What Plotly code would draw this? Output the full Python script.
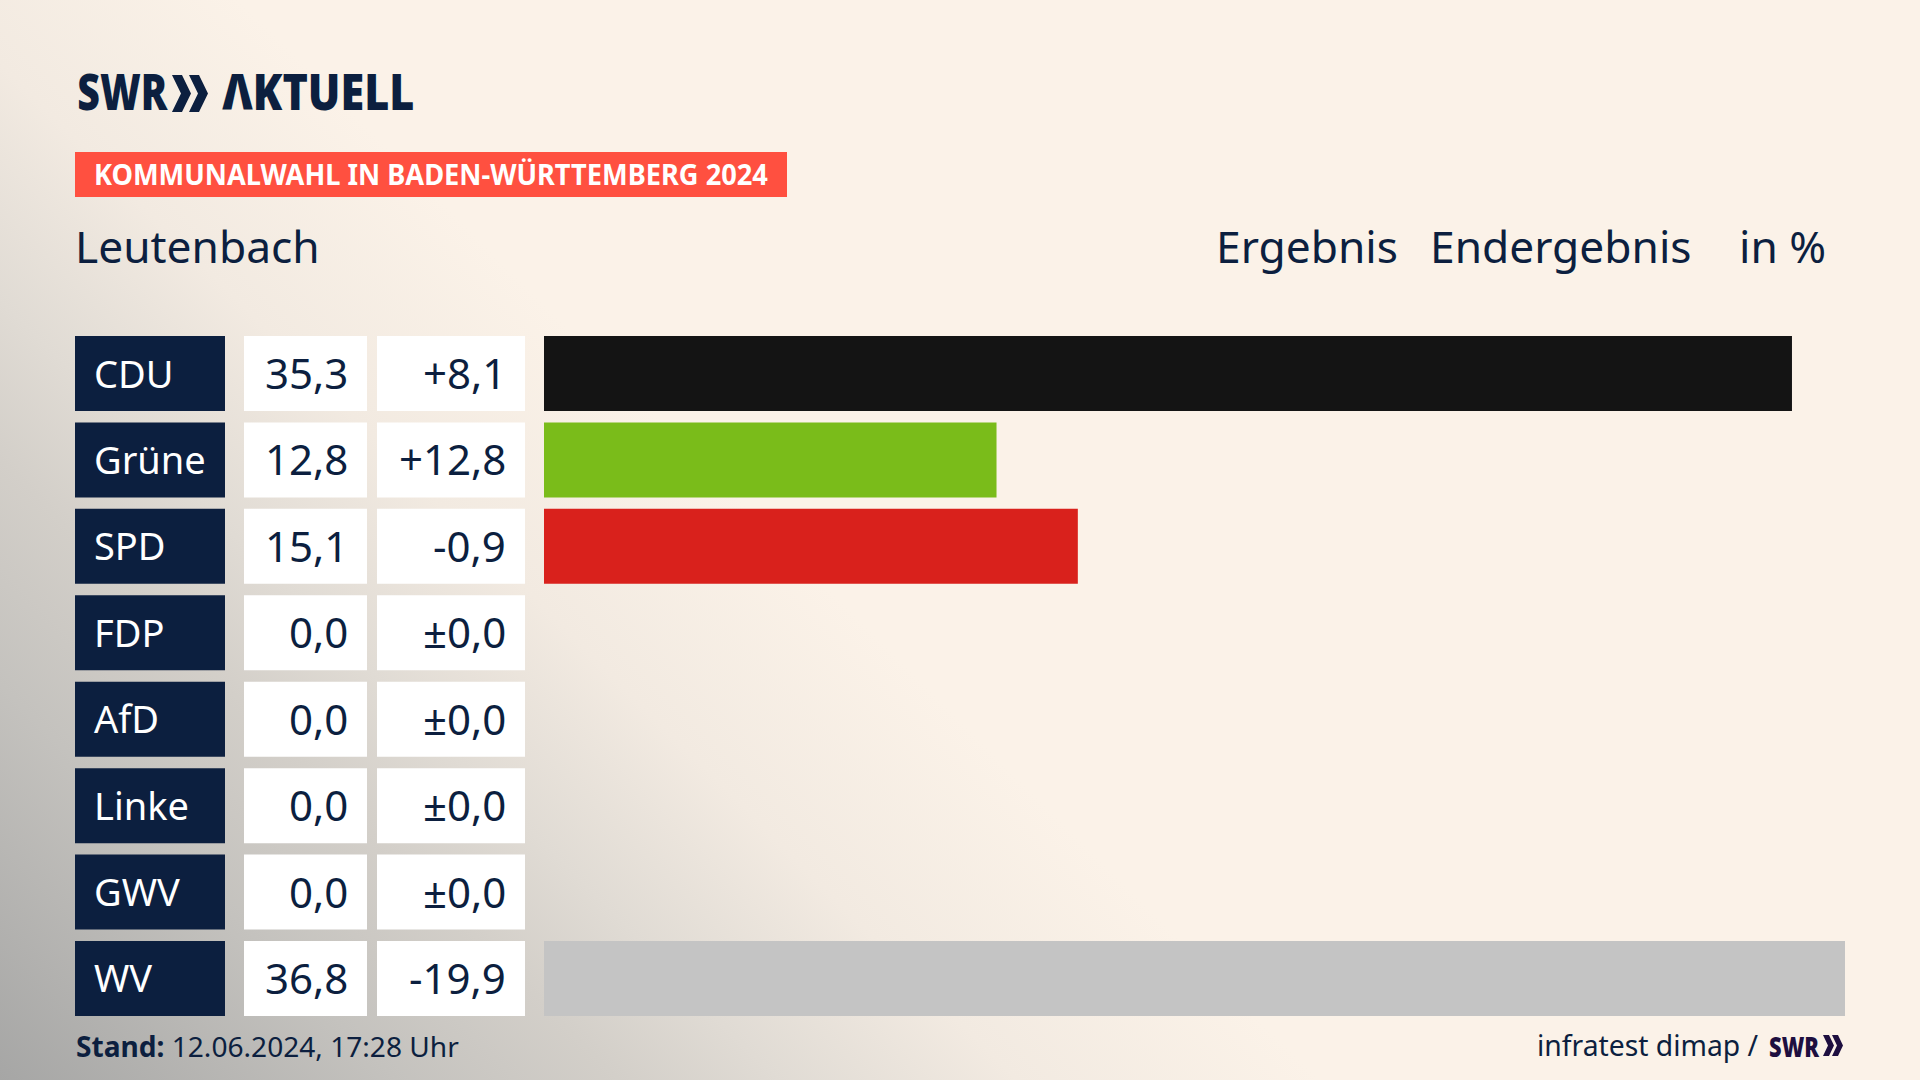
"""
Kommunalwahl result chart for Leutenbach, drawn as three aligned bar columns.
"""
import base64
import plotly.graph_objects as go

W = 1920
H = 1080

#Data:
parties = ["CDU", "Grüne", "SPD", "FDP", "AfD", "Linke", "GWV", "WV"]
results = [35.3, 12.8, 15.1, 0.0, 0.0, 0.0, 0.0, 36.8]
result_labels = ["35,3", "12,8", "15,1", "0,0", "0,0", "0,0", "0,0", "36,8"]
change_labels = ["+8,1", "+12,8", "-0,9", "±0,0", "±0,0", "±0,0", "±0,0", "-19,9"]
bar_colors = ["#141414", "#7ABC1A", "#D9211C", "#888888", "#0091FF", "#BE3075", "#888888", "#C4C4C4"]

NAVY = "#0C1F3F"
CREAM = "#FBF2E8"
LOGO_PURPLE = "#1E0F40"
FONT = "Noto Sans"


#pixel position to paper fraction:
def px(x):
    return x / W


def py(y):
    return 1 - y / H


def chevrons(x0, top, bottom, width, thick, gap):
    #two ">" arrows of the SWR logo as one svg path
    mid = (top + bottom) / 2
    path = ""
    for x in [x0, x0 + gap]:
        pts = [(x, top), (x + thick, top), (x + width, mid), (x + thick, bottom), (x, bottom), (x + width - thick, mid)]
        path += "M" + " L".join(f"{px(a):.5f},{py(b):.5f}" for a, b in pts) + " Z "
    return path


#Grey corner of the background, fades along the diagonal:
svg = f"""<svg xmlns="http://www.w3.org/2000/svg" width="{W}" height="{H}">
<defs>
<linearGradient id="g" gradientUnits="userSpaceOnUse" x1="0" y1="{H}" x2="660" y2="420">
<stop offset="0" stop-color="#a6a6a5"/>
<stop offset="0.30" stop-color="#c4c2be"/>
<stop offset="0.47" stop-color="#d3cfc9"/>
<stop offset="0.59" stop-color="#e0dbd4"/>
<stop offset="0.77" stop-color="#f2eae1"/>
<stop offset="1" stop-color="{CREAM}"/>
</linearGradient>
</defs>
<rect width="{W}" height="{H}" fill="url(#g)"/>
</svg>"""
bg_source = "data:image/svg+xml;base64," + base64.b64encode(svg.encode()).decode()

fig = go.Figure()

#Label column, result column, change column and the result bars:
fig.add_trace(go.Bar(y=parties, x=[1] * len(parties), orientation="h", marker=dict(color=NAVY, line_width=0),
                     xaxis="x", yaxis="y", hoverinfo="skip"))
fig.add_trace(go.Bar(y=parties, x=[1] * len(parties), orientation="h", marker=dict(color="white", line_width=0),
                     xaxis="x2", yaxis="y", hoverinfo="skip"))
fig.add_trace(go.Bar(y=parties, x=[1] * len(parties), orientation="h", marker=dict(color="white", line_width=0),
                     xaxis="x3", yaxis="y", hoverinfo="skip"))
fig.add_trace(go.Bar(y=parties, x=results, orientation="h", marker=dict(color=bar_colors, line_width=0),
                     xaxis="x4", yaxis="y"))

annotations = []


def add_text(text, x, y, size, color=NAVY, anchor="left", yref="paper", weight=400, yshift=1):
    annotations.append(dict(text=text, x=px(x), y=y, xref="paper", yref=yref, xanchor=anchor, yanchor="middle",
                            showarrow=False, borderpad=0, borderwidth=0, yshift=yshift,
                            font=dict(family=FONT, size=size, color=color, weight=weight)))


for i, party in enumerate(parties):
    add_text(party, 94, party, 38, color="white", yref="y")
    add_text(result_labels[i], 348, party, 42, anchor="right", yref="y")
    add_text(change_labels[i], 506, party, 42, anchor="right", yref="y")

#Header:
add_text("SWR", 123, py(93), 50, anchor="center", weight=900, yshift=2)
add_text("ΛKTUELL", 318, py(93), 50, anchor="center", weight=900, yshift=2)
add_text("KOMMUNALWAHL IN BADEN-WÜRTTEMBERG 2024", 431, py(175), 28, color="white", anchor="center", weight=700)
add_text("Leutenbach", 75, py(249), 44.3, yshift=3)
add_text("Ergebnis", 1216, py(249), 44.3, yshift=3)
add_text("Endergebnis", 1430, py(249), 44.3, yshift=3)
add_text("in %", 1826, py(249), 44.3, anchor="right", yshift=3)

#Footer:
add_text("<b>Stand:</b> 12.06.2024, 17:28 Uhr", 76, py(1047), 28.1)
add_text("infratest dimap /", 1759, py(1046), 28.3, anchor="right")
add_text("SWR", 1794, py(1046), 28, color=LOGO_PURPLE, anchor="center", weight=900, yshift=0)

hidden = dict(visible=False, fixedrange=True)
fig.update_layout(
    width=W,
    height=H,
    margin=dict(l=0, r=0, t=0, b=0),
    paper_bgcolor=CREAM,
    plot_bgcolor="rgba(0,0,0,0)",
    showlegend=False,
    bargap=0.132,
    xaxis=dict(domain=[px(75), px(225)], range=[0, 1], anchor="y", **hidden),
    xaxis2=dict(domain=[px(244), px(367)], range=[0, 1], anchor="y", **hidden),
    xaxis3=dict(domain=[px(377), px(525)], range=[0, 1], anchor="y", **hidden),
    xaxis4=dict(domain=[px(544), px(1845)], range=[0, 36.8], anchor="y", **hidden),
    yaxis=dict(domain=[py(1021.7), py(330.3)], autorange="reversed", **hidden),
    annotations=annotations,
    images=[dict(source=bg_source, xref="paper", yref="paper", x=0, y=1, sizex=1, sizey=1,
                 sizing="stretch", xanchor="left", yanchor="top", layer="below")],
    shapes=[
        dict(type="rect", xref="paper", yref="paper", x0=px(75), x1=px(787), y0=py(197), y1=py(152),
             fillcolor="#FF5040", line_width=0, layer="below"),
        dict(type="path", xref="paper", yref="paper", path=chevrons(172, 75, 112, 19, 10, 17),
             fillcolor=NAVY, line_width=0),
        dict(type="path", xref="paper", yref="paper", path=chevrons(1823, 1035, 1056, 11, 6, 9),
             fillcolor=LOGO_PURPLE, line_width=0),
    ],
)

#The logo and band lettering is narrower than any installed font, so squeeze it:
squeeze = """
document.body.style.margin = '0';
document.body.style.overflow = 'hidden';
document.querySelectorAll('.annotation-text').forEach(function (t) {
    var s = t.textContent, len = 0;
    if (s === 'SWR') { len = parseFloat(t.style.fontSize) > 40 ? 90 : 50; }
    if (s === 'ΛKTUELL') { len = 192; }
    if (s.indexOf('KOMMUNALWAHL') === 0) { len = 674; }
    if (len) { t.setAttribute('textLength', len); t.setAttribute('lengthAdjust', 'spacingAndGlyphs'); }
});
"""
fig.write_html("out.html", config=dict(displayModeBar=False), post_script=squeeze)
